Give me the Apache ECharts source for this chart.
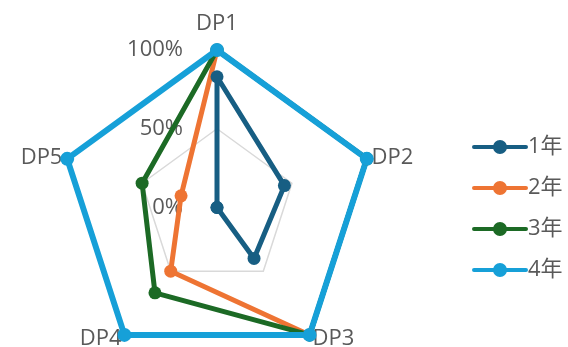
<!DOCTYPE html>
<html>
<head>
<meta charset="utf-8">
<style>
  html, body { margin: 0; padding: 0; background: #fff; }
  #chart { width: 568px; height: 347px; }
</style>
<script src="https://cdn.jsdelivr.net/npm/echarts@6/dist/echarts.min.js"></script>
</head>
<body>
<div id="chart"></div>
<script>
// Radar axes and values (percent), listed DP1..DP5
const indicators = ['DP1', 'DP2', 'DP3', 'DP4', 'DP5'];
const seriesNames = ['1年', '2年', '3年', '4年'];
const year1 = [83, 45, 40, 0, 0];
const year2 = [100, 100, 100, 50, 24];
const year3 = [100, 100, 100, 67, 50];
const year4 = [100, 100, 100, 100, 100];
const colors = ['#175e83', '#ee7433', '#1c6a25', '#16a0d8'];

const font = '"Open Sans", "Noto Sans CJK JP", sans-serif';
const textColor = '#595959';

// radar lays axes out counter-clockwise; this order puts DP1..DP5 clockwise
const order = [0, 4, 3, 2, 1];

const chart = echarts.init(document.getElementById('chart'));

const indicatorList = order.map(i => {
  const item = { name: indicators[i], min: 0, max: 100 };
  if (i === 0) {
    item.nameGap = 15;
    item.axisLabel = {
      show: true,
      margin: 34,
      color: textColor,
      fontFamily: font,
      fontSize: 22,
      formatter: v => v + '%'
    };
  }
  return item;
});

const values = [year1, year2, year3, year4];

// legend marker: rounded line with a dot in the middle
const lineDotIcon = 'path://M2,5 L54,5 A2,2 0 0 1 54,9 L2,9 A2,2 0 0 1 2,5 Z M28,0 A7,7 0 1 1 28,14 A7,7 0 1 1 28,0 Z';

chart.setOption({
  animation: false,
  color: colors,
  legend: {
    orient: 'vertical',
    left: 467,
    top: 131,
    itemWidth: 56,
    itemHeight: 14,
    itemGap: 19,
    icon: lineDotIcon,
    textStyle: { color: textColor, fontFamily: font, fontSize: 22, padding: [0, 0, 0, -5] },
    data: seriesNames
  },
  radar: {
    center: [217, 207.5],
    radius: 157.5,
    startAngle: 90,
    splitNumber: 2,
    shape: 'polygon',
    nameGap: 5,
    axisName: { color: textColor, fontFamily: font, fontSize: 22 },
    axisLine: { show: false },
    axisTick: { show: false },
    axisLabel: { show: false },
    splitArea: { show: false },
    splitLine: { lineStyle: { color: '#d9d9d9', width: 1.5 } },
    indicator: indicatorList
  },
  series: seriesNames.map((name, i) => ({
    name: name,
    type: 'radar',
    symbol: 'circle',
    symbolSize: i === 3 ? 14 : 13,
    lineStyle: { width: i === 3 ? 6 : 5, color: colors[i] },
    itemStyle: { color: colors[i] },
    data: [{ value: order.map(k => values[i][k]), name: name }]
  }))
});
</script>
</body>
</html>
